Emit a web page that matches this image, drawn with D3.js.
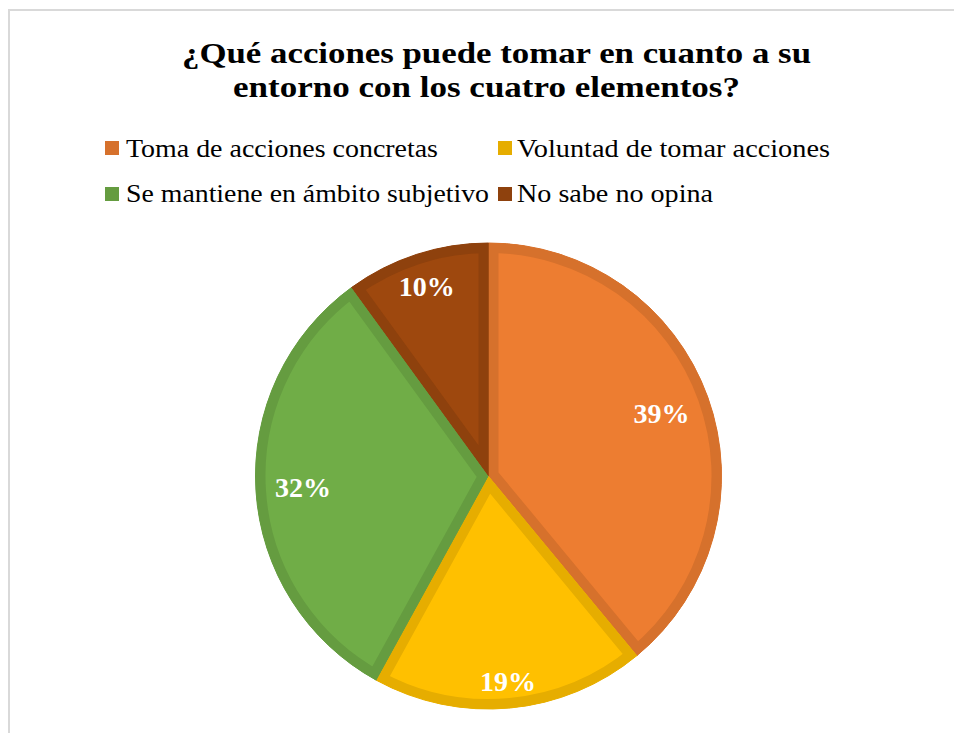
<!DOCTYPE html>
<html><head><meta charset="utf-8">
<script src="https://cdn.jsdelivr.net/npm/d3@7"></script>
</head><body>
<script>
const categories = ["Toma de acciones concretas","Voluntad de tomar acciones","Se mantiene en ámbito subjetivo","No sabe no opina"];
const values = [39, 19, 32, 10];
const fills = ["#ED7D31","#FFC000","#70AD47","#9E480E"];
const borders = ["#D6712C","#E6AD00","#659C40","#8E410D"];
const titleLines = ["¿Qué acciones puede tomar en cuanto a su","entorno con los cuatro elementos?"];

const FONT = "Liberation Serif";
const W = 954, H = 733;
d3.select("body").style("margin","0px");
const svg = d3.select("body").append("svg").attr("width", W).attr("height", H).style("display","block");

svg.append("rect").attr("x", 9).attr("y", 10).attr("width", 980).attr("height", 760)
  .attr("fill", "#fff").attr("stroke", "#d9d9d9").attr("stroke-width", 2);

// Title
const titleLayout = [{x:182, y:63, len:629},{x:233, y:97, len:507}];
svg.selectAll("text.title").data(titleLines).join("text").attr("class","title")
  .attr("x",(d,i)=>titleLayout[i].x).attr("y",(d,i)=>titleLayout[i].y)
  .attr("textLength",(d,i)=>titleLayout[i].len).attr("lengthAdjust","spacingAndGlyphs")
  .attr("font-family",FONT).attr("font-weight","bold")
  .attr("font-size",30).attr("fill","#000").text(d=>d);

// Legend
const legLayout = [
  {sx:105, sy:141, tx:126, ty:157, len:312},
  {sx:498, sy:141, tx:517, ty:157, len:313},
  {sx:105, sy:187, tx:126, ty:202, len:363},
  {sx:498, sy:187, tx:517, ty:202, len:196}
];
const leg = svg.selectAll("g.leg").data(categories).join("g").attr("class","leg");
leg.append("rect").attr("x",(d,i)=>legLayout[i].sx).attr("y",(d,i)=>legLayout[i].sy)
  .attr("width",14).attr("height",14).attr("fill",(d,i)=>borders[i]);
leg.append("text").attr("x",(d,i)=>legLayout[i].tx).attr("y",(d,i)=>legLayout[i].ty)
  .attr("textLength",(d,i)=>legLayout[i].len).attr("lengthAdjust","spacingAndGlyphs")
  .attr("font-family",FONT)
  .attr("font-size",26).attr("fill","#000").text(d=>d);

// Pie
const cx = 488.5, cy = 476, R = 233;
const pie = d3.pie().sort(null).value(d=>d)(values);
const arc = d3.arc().innerRadius(0).outerRadius(R);
const g = svg.append("g").attr("transform",`translate(${cx},${cy})`);
const defs = svg.append("defs");
pie.forEach((p,i)=>{
  defs.append("clipPath").attr("id","clip"+i).append("path").attr("d", arc(p));
});
g.selectAll("path.base").data(pie).join("path").attr("class","base")
  .attr("d", arc).attr("fill",(d,i)=>borders[i]).attr("stroke",(d,i)=>borders[i]).attr("stroke-width",1);
g.selectAll("path.slice").data(pie).join("path").attr("class","slice")
  .attr("d", arc).attr("fill",(d,i)=>fills[i])
  .attr("stroke",(d,i)=>borders[i]).attr("stroke-width",20).attr("stroke-linejoin","miter")
  .attr("clip-path",(d,i)=>`url(#clip${i})`);

const labelR = [184, 206, 186, 200];
g.selectAll("text.lbl").data(pie).join("text").attr("class","lbl")
  .attr("x",(d,i)=>{const a=(d.startAngle+d.endAngle)/2; return Math.sin(a)*labelR[i];})
  .attr("y",(d,i)=>{const a=(d.startAngle+d.endAngle)/2; return -Math.cos(a)*labelR[i];})
  .attr("dy","0.35em").attr("text-anchor","middle")
  .attr("font-family",FONT).attr("font-weight","bold")
  .attr("font-size",28).attr("fill","#fff").text(d=>d.data+"%");
</script>
</body></html>
